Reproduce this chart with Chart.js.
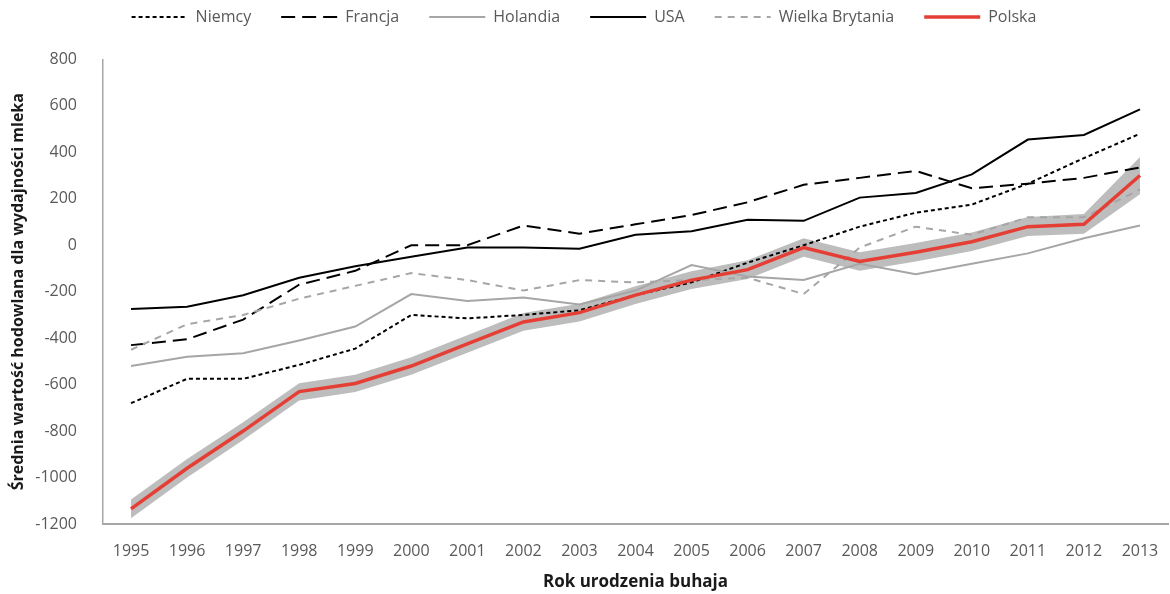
<!DOCTYPE html>
<html>
<head>
<meta charset="utf-8">
<script src="https://cdn.jsdelivr.net/npm/chart.js@4.4.1/dist/chart.umd.min.js"></script>
<style>
    html, body { margin: 0; padding: 0; background: #fff; }
    #wrap { width: 1170px; height: 594px; }
</style>
</head>
<body>
<div id="wrap"><canvas id="milkChart"></canvas></div>
<script>
// Rok urodzenia buhaja
const years = ['1995', '1996', '1997', '1998', '1999', '2000', '2001', '2002', '2003', '2004',
               '2005', '2006', '2007', '2008', '2009', '2010', '2011', '2012', '2013'];

const niemcy   = [-680, -575, -575, -515, -445, -300, -315, -300, -280, -215, -160, -75, 0, 80, 140, 175, 265, 375, 480];
const francja  = [-430, -405, -320, -170, -110, 0, 0, 85, 50, 90, 130, 185, 260, 290, 320, 245, 265, 290, 335];
const holandia = [-520, -480, -465, -410, -350, -210, -240, -225, -255, -195, -85, -135, -150, -80, -125, -80, -35, 30, 85];
const usa      = [-275, -265, -215, -140, -90, -50, -10, -10, -15, 45, 60, 110, 105, 205, 225, 305, 455, 475, 585];
const wielkaBrytania = [-450, -340, -300, -230, -175, -120, -150, -195, -150, -160, -150, -140, -210, -10, 80, 45, 120, 120, 240];
const polska   = [-1135, -960, -800, -630, -595, -520, -425, -330, -290, -215, -150, -105, -10, -70, -30, 15, 80, 90, 300];

// przedzial wokol linii dla Polski
const polskaGora = [-1095, -920, -762, -594, -558, -482, -387, -292, -252, -177, -112, -65, 30, -30, 10, 55, 122, 135, 380];
const polskaDol  = [-1175, -1000, -838, -668, -632, -558, -463, -368, -328, -253, -188, -145, -50, -110, -70, -25, 40, 50, 220];

const yTicks = { min: -1200, max: 800, step: 200 };

const fontFamily = '"Open Sans", Arial, sans-serif';
const gray = '#a6a6a6';

function line(label, data, color, width, dash) {
    return {
        label: label,
        data: data,
        borderColor: color,
        backgroundColor: color,
        borderWidth: width,
        borderDash: dash,
        pointRadius: 0,
        pointHoverRadius: 0,
        pointBorderWidth: width,
        pointStyle: 'line',
        tension: 0,
        fill: false
    };
}

const datasets = [
    line('Polska', polska, '#e53f35', 3.5, []),
    line('Wielka Brytania', wielkaBrytania, gray, 2, [7, 6]),
    line('USA', usa, '#000000', 2, []),
    line('Holandia', holandia, gray, 2, []),
    line('Francja', francja, '#000000', 2, [14, 7]),
    line('Niemcy', niemcy, '#000000', 2, [4, 3]),
    {
        label: 'band-top',
        data: polskaGora,
        borderWidth: 0,
        borderColor: 'rgba(0,0,0,0)',
        backgroundColor: '#bdbdbd',
        pointRadius: 0,
        tension: 0,
        fill: '+1'
    },
    {
        label: 'band-bottom',
        data: polskaDol,
        borderWidth: 0,
        borderColor: 'rgba(0,0,0,0)',
        backgroundColor: '#bdbdbd',
        pointRadius: 0,
        tension: 0,
        fill: false
    }
];

// legenda: linie z przerywaniem jak w serii
function legendLabels(chart) {
    const items = Chart.defaults.plugins.legend.labels.generateLabels(chart);
    items.forEach(item => {
        const ds = chart.data.datasets[item.datasetIndex];
        item.lineDash = ds.borderDash;
        item.lineWidth = ds.borderWidth;
        item.strokeStyle = ds.borderColor;
        item.fillStyle = ds.borderColor;
    });
    return items;
}

const ctx = document.getElementById('milkChart').getContext('2d');
new Chart(ctx, {
    type: 'line',
    data: { labels: years, datasets: datasets },
    options: {
        responsive: true,
        maintainAspectRatio: false,
        animation: false,
        layout: { padding: { top: -21, right: 2, left: 0, bottom: 0 } },
        plugins: {
            filler: { drawTime: 'beforeDatasetsDraw' },
            tooltip: { enabled: false },
            legend: {
                position: 'top',
                reverse: true,
                labels: {
                    usePointStyle: true,
                    pointStyleWidth: 56,
                    padding: 30,
                    color: '#595959',
                    font: { family: fontFamily, size: 16 },
                    generateLabels: legendLabels,
                    filter: item => !item.text.startsWith('band')
                }
            },
            subtitle: {
                display: true,
                text: '',
                weight: 500,
                padding: { top: 0, bottom: 10 },
                font: { size: 12 }
            }
        },
        scales: {
            x: {
                offset: true,
                grid: { display: false },
                border: { display: true, color: '#a6a6a6', width: 2 },
                ticks: {
                    color: '#595959',
                    font: { family: fontFamily, size: 16 },
                    padding: 10,
                    maxRotation: 0,
                    autoSkip: false
                },
                title: {
                    display: true,
                    text: 'Rok urodzenia buhaja',
                    color: '#1a1a1a',
                    font: { family: fontFamily, size: 17, weight: 'bold' },
                    padding: { top: 0, bottom: 2 }
                },
                afterFit: scale => { scale.height = 70; }
            },
            y: {
                min: yTicks.min,
                max: yTicks.max,
                grid: { display: false },
                border: { display: true, color: '#a6a6a6', width: 1.5 },
                ticks: {
                    stepSize: yTicks.step,
                    color: '#595959',
                    font: { family: fontFamily, size: 16 },
                    padding: 18,
                    callback: v => String(v)
                },
                title: {
                    display: true,
                    text: 'Średnia wartość hodowlana dla wydajności mleka',
                    color: '#1a1a1a',
                    font: { family: fontFamily, size: 16, weight: 'bold' },
                    padding: { top: 9, bottom: 0 }
                },
                afterFit: scale => { scale.width = 103; }
            }
        }
    }
});
</script>
</body>
</html>
